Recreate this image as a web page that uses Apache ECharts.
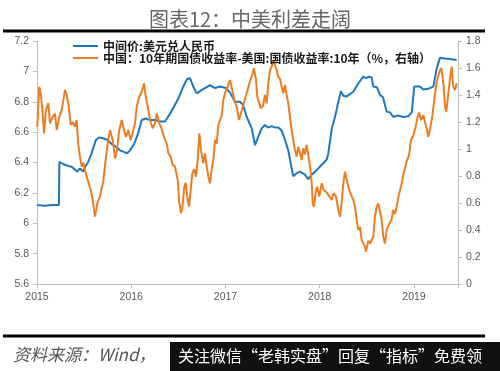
<!DOCTYPE html>
<html>
<head>
<meta charset="utf-8">
<script src="https://cdn.jsdelivr.net/npm/echarts@6/dist/echarts.min.js"></script>
<style>html,body{margin:0;padding:0;background:#fff;}#c{width:500px;height:371px;}</style>
</head>
<body>
<div id="c"></div>
<script>
var titleText = '图表12：中美利差走阔';
var sourceText = '资料来源：Wind，';
var bannerText = '关注微信“老韩实盘”回复“指标”免费领';
var seriesNames = ['中间价:美元兑人民币', '中国：10年期国债收益率-美国:国债收益率:10年（%，右轴）'];
var yearTicks = [2015, 2016, 2017, 2018, 2019];

// Blue: USD/CNY central parity (left axis); x in decimal axis-years
var cnyDates = [2015.003,2015.085,2015.159,2015.233,2015.237,2015.276,2015.318,2015.371,2015.424,2015.456,2015.488,2015.509,2015.541,2015.573,2015.594,2015.626,2015.658,2015.700,2015.743,2015.796,2015.849,2015.881,2015.923,2015.955,2015.987,2016.029,2016.072,2016.111,2016.156,2016.199,2016.252,2016.305,2016.358,2016.411,2016.464,2016.499,2016.535,2016.560,2016.592,2016.623,2016.658,2016.694,2016.729,2016.782,2016.836,2016.889,2016.942,2017.005,2017.048,2017.101,2017.154,2017.186,2017.225,2017.278,2017.313,2017.348,2017.384,2017.419,2017.451,2017.490,2017.525,2017.560,2017.596,2017.631,2017.666,2017.702,2017.719,2017.755,2017.790,2017.843,2017.878,2017.915,2017.968,2018.021,2018.074,2018.091,2018.127,2018.162,2018.197,2018.225,2018.250,2018.286,2018.321,2018.356,2018.409,2018.462,2018.491,2018.523,2018.551,2018.568,2018.607,2018.639,2018.671,2018.710,2018.745,2018.780,2018.830,2018.886,2018.940,2018.976,2019.003,2019.064,2019.099,2019.149,2019.205,2019.241,2019.276,2019.329,2019.400,2019.453];
var cnyValues = [6.12,6.115,6.12,6.12,6.405,6.39,6.38,6.37,6.34,6.36,6.34,6.37,6.40,6.45,6.49,6.55,6.565,6.56,6.55,6.52,6.50,6.48,6.47,6.46,6.48,6.52,6.59,6.68,6.69,6.68,6.68,6.67,6.67,6.72,6.78,6.82,6.875,6.91,6.95,6.955,6.90,6.855,6.87,6.89,6.91,6.89,6.90,6.89,6.86,6.80,6.80,6.78,6.70,6.625,6.515,6.57,6.625,6.647,6.63,6.64,6.63,6.63,6.61,6.55,6.48,6.36,6.31,6.33,6.34,6.32,6.29,6.32,6.35,6.385,6.42,6.46,6.62,6.70,6.80,6.87,6.84,6.835,6.85,6.866,6.92,6.965,6.955,6.965,6.96,6.90,6.895,6.845,6.83,6.735,6.73,6.70,6.71,6.70,6.705,6.73,6.90,6.90,6.88,6.885,6.90,7.02,7.09,7.085,7.08,7.075];

// Orange: China 10Y minus US 10Y yield spread (right axis)
var spreadDates = [2015.003,2015.024,2015.042,2015.060,2015.074,2015.095,2015.120,2015.138,2015.167,2015.191,2015.209,2015.237,2015.262,2015.279,2015.297,2015.315,2015.332,2015.358,2015.379,2015.403,2015.421,2015.438,2015.456,2015.474,2015.491,2015.509,2015.527,2015.544,2015.570,2015.591,2015.615,2015.640,2015.668,2015.686,2015.703,2015.732,2015.756,2015.775,2015.803,2015.828,2015.846,2015.873,2015.899,2015.923,2015.944,2015.969,2015.994,2016.015,2016.040,2016.058,2016.085,2016.111,2016.135,2016.156,2016.181,2016.199,2016.228,2016.252,2016.270,2016.298,2016.323,2016.347,2016.376,2016.393,2016.419,2016.440,2016.464,2016.493,2016.507,2016.528,2016.542,2016.563,2016.578,2016.599,2016.613,2016.634,2016.648,2016.669,2016.687,2016.705,2016.722,2016.740,2016.764,2016.782,2016.801,2016.818,2016.836,2016.854,2016.871,2016.889,2016.907,2016.924,2016.942,2016.960,2016.977,2016.995,2017.023,2017.048,2017.072,2017.093,2017.119,2017.143,2017.164,2017.189,2017.225,2017.253,2017.289,2017.302,2017.324,2017.337,2017.359,2017.373,2017.398,2017.419,2017.437,2017.454,2017.472,2017.490,2017.507,2017.525,2017.543,2017.560,2017.578,2017.596,2017.613,2017.631,2017.649,2017.666,2017.684,2017.702,2017.719,2017.737,2017.755,2017.772,2017.790,2017.808,2017.825,2017.843,2017.861,2017.878,2017.897,2017.915,2017.925,2017.939,2017.960,2017.974,2017.995,2018.021,2018.038,2018.056,2018.080,2018.101,2018.127,2018.144,2018.172,2018.197,2018.215,2018.233,2018.250,2018.268,2018.286,2018.303,2018.321,2018.356,2018.374,2018.392,2018.409,2018.427,2018.445,2018.462,2018.480,2018.491,2018.515,2018.533,2018.568,2018.586,2018.604,2018.621,2018.639,2018.657,2018.674,2018.692,2018.710,2018.727,2018.763,2018.780,2018.798,2018.816,2018.833,2018.869,2018.886,2018.922,2018.947,2018.968,2018.993,2019.018,2019.039,2019.053,2019.074,2019.099,2019.135,2019.152,2019.170,2019.194,2019.215,2019.241,2019.265,2019.286,2019.300,2019.315,2019.329,2019.343,2019.364,2019.385,2019.400,2019.417,2019.435,2019.453];
var spreadValues = [1.165,1.46,1.40,1.264,1.116,1.29,1.34,1.19,1.24,1.26,1.14,1.24,1.29,1.36,1.437,1.40,1.34,1.178,1.20,1.165,1.215,1.03,0.943,0.869,0.90,0.844,0.795,0.758,0.696,0.622,0.499,0.598,0.647,0.709,0.76,0.943,1.067,1.14,1.067,0.93,0.98,1.14,1.215,1.14,1.09,1.14,1.067,1.12,1.19,1.313,1.387,1.424,1.486,1.38,1.29,1.215,1.153,1.19,1.264,1.19,1.15,1.09,1.04,0.97,0.943,0.88,0.87,0.77,0.622,0.524,0.56,0.72,0.75,0.622,0.573,0.72,0.82,0.85,0.795,0.918,1.116,0.993,0.894,0.968,0.87,0.795,0.746,0.85,0.918,1.067,1.04,1.178,1.215,1.25,1.363,1.413,1.462,1.511,1.437,1.363,1.313,1.215,1.264,1.326,1.413,1.487,1.561,1.598,1.511,1.387,1.338,1.301,1.32,1.40,1.338,1.487,1.585,1.61,1.659,1.62,1.585,1.536,1.52,1.462,1.413,1.474,1.40,1.338,1.24,1.14,1.067,0.993,0.943,1.017,0.97,0.918,1.005,0.96,1.03,0.96,0.869,0.746,0.598,0.573,0.696,0.72,0.647,0.746,0.70,0.71,0.672,0.65,0.622,0.672,0.65,0.548,0.499,0.60,0.746,0.832,0.77,0.72,0.68,0.622,0.573,0.474,0.40,0.42,0.326,0.301,0.276,0.24,0.32,0.30,0.35,0.50,0.57,0.598,0.54,0.474,0.35,0.30,0.40,0.43,0.48,0.548,0.52,0.573,0.64,0.74,0.81,0.91,0.95,1.067,1.10,1.165,1.24,1.27,1.215,1.25,1.15,1.09,1.15,1.24,1.363,1.50,1.56,1.60,1.55,1.462,1.313,1.276,1.413,1.536,1.61,1.462,1.437,1.487];

function pairs(xs, ys){ var out=[]; for(var i=0;i<xs.length;i++){ out.push([xs[i], ys[i]]); } return out; }

var chart = echarts.init(document.getElementById('c'), null, {renderer:'canvas'});
var labelStyle = {color:'#595959', fontSize:10.5, fontFamily:'Liberation Sans'};
var axisLineStyle = {lineStyle:{color:'#bfbfbf', width:1}};
chart.setOption({
  animation:false,
  backgroundColor:'#ffffff',
  title:{
    text:titleText, left:'center', top:4,
    textStyle:{fontSize:20, fontWeight:'normal', color:'#666666', fontFamily:'Noto Sans CJK SC'}
  },
  legend:{
    orient:'vertical', left:68, top:35, itemGap:0, itemWidth:25, itemHeight:2, icon:'rect',
    textStyle:{fontSize:12, fontWeight:'bold', color:'#1a1a1a', fontFamily:'Noto Sans CJK SC', lineHeight:12},
    data:seriesNames
  },
  grid:{left:37, right:42, top:41, bottom:87, containLabel:false},
  xAxis:{
    type:'value', min:yearTicks[0], max:2019.467, interval:1,
    axisLine:axisLineStyle, axisTick:{show:true, length:4, lineStyle:{color:'#bfbfbf'}},
    splitLine:{show:false},
    axisLabel:Object.assign({margin:8, formatter:function(v){ return yearTicks.indexOf(Math.round(v))>=0 && Math.abs(v-Math.round(v))<1e-6 ? String(Math.round(v)) : ''; }}, labelStyle)
  },
  yAxis:[
    {type:'value', min:5.6, max:7.2, interval:0.2, position:'left',
     axisLine:Object.assign({show:true}, axisLineStyle), axisTick:{show:true, length:4, lineStyle:{color:'#bfbfbf'}},
     splitLine:{show:false}, axisLabel:Object.assign({margin:8}, labelStyle)},
    {type:'value', min:0, max:1.8, interval:0.2, position:'right',
     axisLine:Object.assign({show:true}, axisLineStyle), axisTick:{show:true, length:4, lineStyle:{color:'#bfbfbf'}},
     splitLine:{show:false}, axisLabel:Object.assign({margin:8}, labelStyle)}
  ],
  series:[
    {name:seriesNames[0], type:'line', yAxisIndex:0, data:pairs(cnyDates, cnyValues),
     showSymbol:false, symbol:'none', lineStyle:{color:'#1f77c0', width:2}, itemStyle:{color:'#1f77c0'}},
    {name:seriesNames[1], type:'line', yAxisIndex:1, data:pairs(spreadDates, spreadValues),
     showSymbol:false, symbol:'none', lineStyle:{color:'#ee7d22', width:2}, itemStyle:{color:'#ee7d22'}}
  ],
  graphic:[
    {type:'line', shape:{x1:3, y1:31, x2:485, y2:31}, style:{stroke:'#000', lineWidth:3}},
    {type:'line', shape:{x1:3, y1:336, x2:485, y2:336}, style:{stroke:'#000', lineWidth:3}},
    {type:'text', x:13, y:355, style:{text:sourceText, fill:'#555555', font:'italic 17px "Noto Sans CJK SC"', textVerticalAlign:'middle'}},
    {type:'rect', shape:{x:170, y:342, width:330, height:29}, style:{fill:'#111111'}},
    {type:'text', x:178, y:356, style:{text:bannerText, fill:'#ffffff', font:'16px "Noto Sans CJK SC"', textVerticalAlign:'middle'}}
  ]
});
</script>
</body>
</html>
